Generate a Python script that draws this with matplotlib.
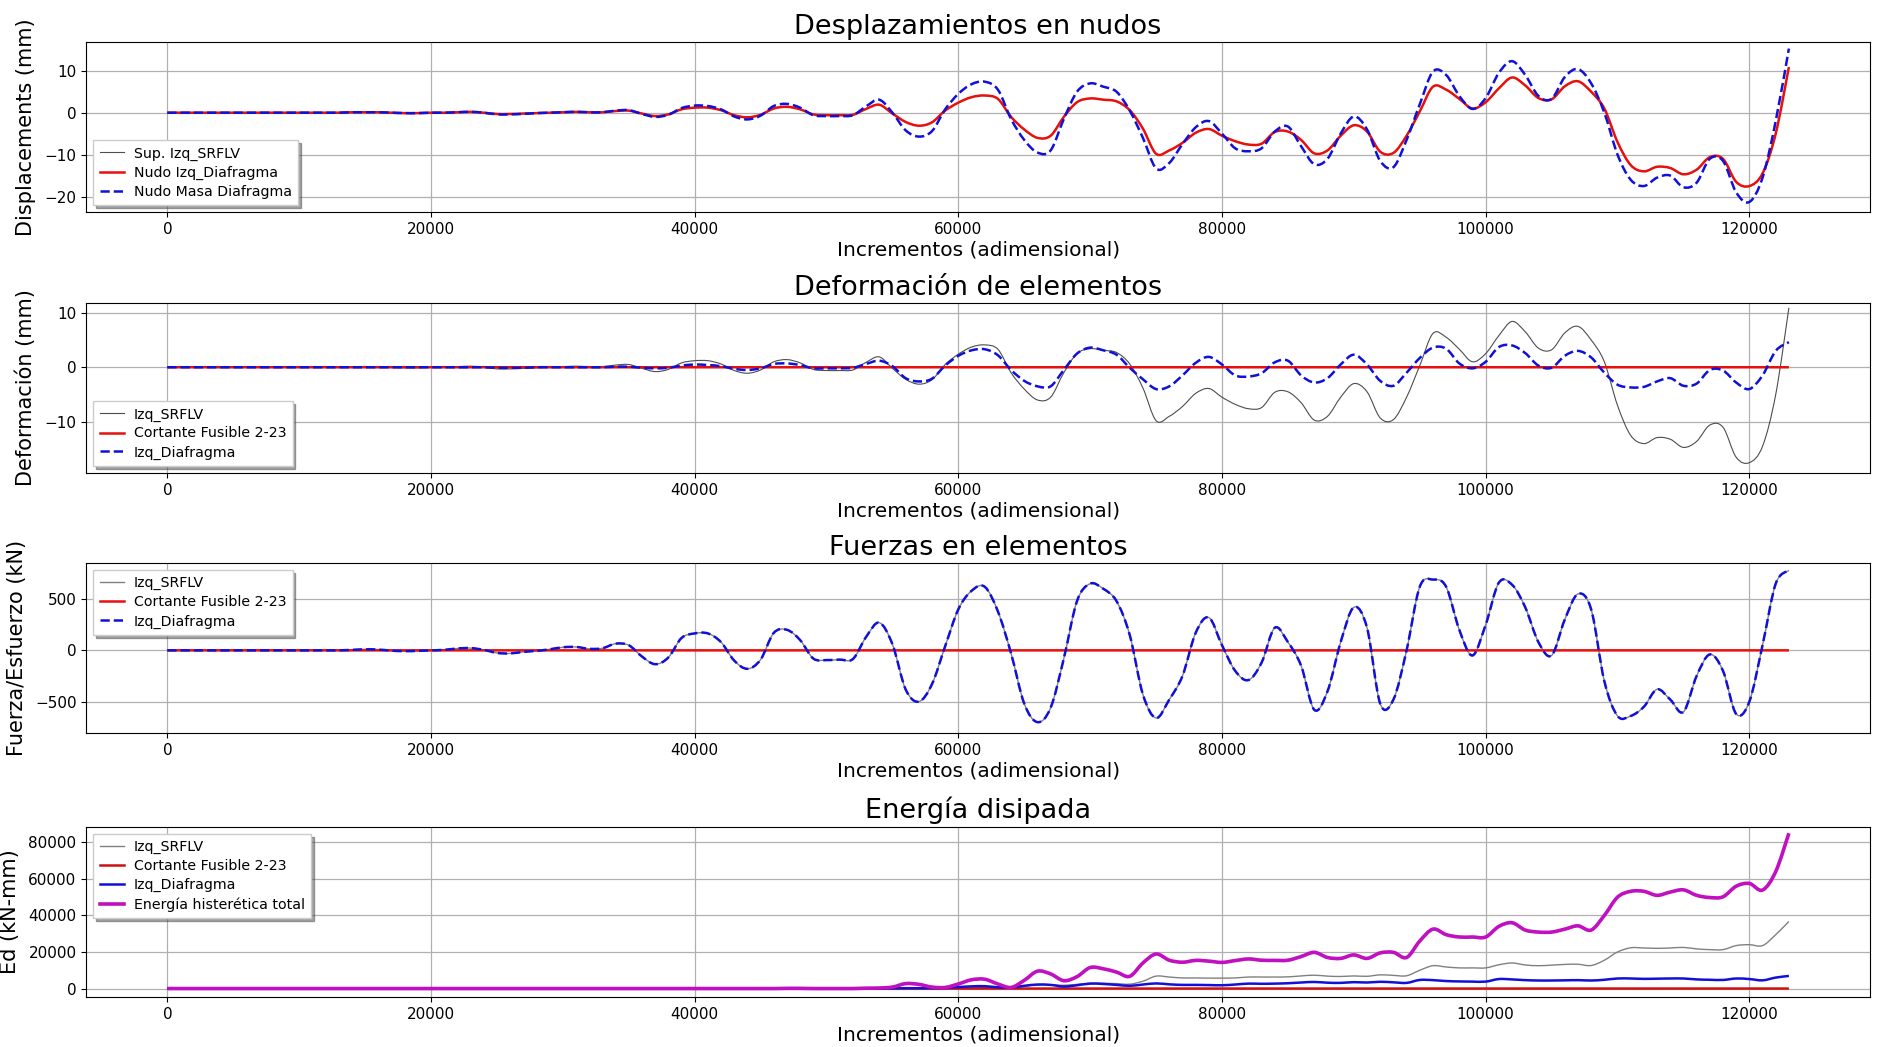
import numpy as np
import matplotlib
matplotlib.use("Agg")
import matplotlib.pyplot as plt
from matplotlib.path import Path
from matplotlib.patches import PathPatch

# Increment axis (one sample every 1000 increments)
incrementos = np.arange(0, 124000, 1000)

# Displacement of the left SRFLV support / node (mm)
desp_srflv = [
    0, 0, 0, 0, 0, 0, 0, 0, 0, 0,
    0, 0, 0, 0, 0.1, 0.1, 0.1, 0, -0.1, -0.1,
    0, 0, 0.1, 0.2, 0, -0.3, -0.3, -0.2, -0.1, 0,
    0.1, 0.2, 0.1, 0.1, 0.4, 0.5, -0.2, -0.8, -0.4, 0.8,
    1.2, 1.2, 0.6, -0.6, -1.1, -0.5, 1.0, 1.4, 0.8, -0.4,
    -0.6, -0.6, -0.5, 0.9, 1.9, -0.2, -2.2, -3.1, -2.3, 0.5,
    2.4, 3.7, 4.1, 3.3, -1.0, -4.0, -6.0, -5.5, -1.0, 2.5,
    3.4, 3.1, 2.7, 0.6, -3.8, -9.8, -9.0, -7.2, -4.8, -3.9,
    -5.5, -6.8, -7.6, -7.4, -4.6, -4.5, -6.5, -9.7, -9.0, -5.5,
    -3.0, -4.5, -9.3, -9.6, -5.5, 0.3, 6.2, 5.5, 3.3, 1.0,
    2.5, 5.8, 8.4, 6.5, 3.5, 3.2, 6.3, 7.5, 5.0, 1.0,
    -7.0, -12.5, -14.0, -12.9, -13.2, -14.7, -13.6, -10.6, -11.0, -16.5,
    -17.5, -14.5, -5.0, 10.9,
]

# Displacement of the diaphragm mass node (mm)
desp_masa = [
    0, 0, 0, 0, 0, 0, 0, 0, 0, 0,
    0, 0, 0, 0, 0.1, 0.1, 0.1, 0, -0.1, -0.1,
    0, 0, 0.1, 0.2, 0, -0.4, -0.4, -0.3, -0.1, 0,
    0.1, 0.2, 0.1, 0.1, 0.5, 0.6, -0.3, -1.0, -0.5, 1.1,
    1.7, 1.6, 0.8, -0.9, -1.6, -0.7, 1.6, 2.1, 1.2, -0.6,
    -0.8, -0.8, -0.6, 1.5, 3.1, 0.0, -4.2, -5.7, -4.4, 0.8,
    4.5, 6.8, 7.4, 5.5, -1.5, -6.5, -9.5, -9.0, -1.5, 5.0,
    7.0, 6.2, 5.0, 0.5, -6.0, -13.3, -12.0, -7.5, -3.5, -2.0,
    -5.0, -8.5, -9.2, -8.5, -4.5, -3.3, -8.0, -12.3, -11.0, -5.0,
    -0.9, -4.0, -11.5, -13.0, -6.5, 2.0, 9.8, 9.0, 4.0, 0.9,
    3.5, 9.5, 12.3, 9.0, 4.0, 3.3, 8.5, 10.4, 7.0, 0.0,
    -10.0, -16.0, -17.5, -15.5, -15.0, -17.8, -16.7, -11.0, -11.5, -19.0,
    -21.3, -15.5, -2.0, 15.3,
]

# Deformation of the diaphragm element (mm)
def_diafragma = [
    0, 0, 0, 0, 0, 0, 0, 0, 0, 0,
    0, 0, 0, 0, 0, 0, 0, 0, 0, 0,
    0, 0, 0, 0, 0, -0.1, -0.1, -0.1, 0, 0,
    0, 0, 0, 0, 0.1, 0.1, -0.1, -0.2, -0.1, 0.3,
    0.5, 0.4, 0.2, -0.3, -0.5, -0.2, 0.6, 0.7, 0.4, -0.2,
    -0.2, -0.2, -0.1, 0.6, 1.2, 0.2, -2.0, -2.6, -2.1, 0.3,
    2.1, 3.1, 3.3, 2.2, -0.5, -2.5, -3.5, -3.5, -0.5, 2.5,
    3.6, 3.1, 2.3, -0.1, -2.2, -4.0, -3.5, -1.5, 0.8, 1.9,
    0.5, -1.5, -1.7, -1.1, 0.9, 1.2, -1.5, -2.8, -2.0, 0.5,
    2.3, 0.5, -2.5, -3.4, -1.0, 1.7, 3.6, 3.4, 0.7, -0.2,
    1.0, 3.7, 4.0, 2.6, 0.3, -0.1, 2.1, 3.0, 1.8, -1.0,
    -3.2, -3.7, -3.6, -2.6, -2.0, -3.4, -3.0, -0.5, -0.6, -2.8,
    -4.0, -1.5, 3.0, 4.6,
]

# Force in the SRFLV / diaphragm elements (kN)
fuerza = [
    0, 0, 0, 0, 0, 0, 0, 0, 0, 0,
    0, 0, 0, 0, 5, 10, 8, -3, -8, -5,
    0, 5, 18, 22, 5, -25, -30, -15, -5, 10,
    30, 33, 15, 20, 65, 50, -60, -135, -70, 120,
    165, 165, 80, -100, -180, -90, 170, 200, 100, -80,
    -95, -90, -85, 130, 270, 60, -380, -500, -330, 40,
    400, 580, 620, 380, -30, -520, -700, -560, -80, 480,
    650, 600, 480, 150, -430, -660, -480, -250, 170, 320,
    50, -200, -290, -120, 220, 80, -150, -580, -400, 80,
    420, 220, -520, -480, 0, 620, 690, 620, 200, -50,
    250, 660, 640, 420, 80, -50, 300, 550, 400, -300,
    -640, -640, -550, -380, -480, -600, -250, -40, -200, -620,
    -500, 50, 650, 780,
]

# Dissipated energy (kN-mm)
energia_srflv = [
    0, 0, 0, 0, 0, 0, 0, 0, 0, 0,
    0, 0, 0, 0, 0, 0, 0, 0, 0, 0,
    0, 0, 0, 0, 0, 0, 0, 0, 0, 0,
    0, 0, 0, 0, 0, 0, 0, 0, 0, 0,
    0, 0, 0, 0, 0, 0, 0, 0, 0, 0,
    0, 0, 0, 0, 0, 0, 100, 100, 100, 100,
    200, 300, 500, 300, 300, 1200, 2000, 2000, 1800, 2300,
    2900, 2900, 2700, 2400, 4000, 6800, 6300, 5800, 5800, 5700,
    5700, 5800, 6300, 6300, 6300, 6400, 6900, 7300, 6800, 6600,
    6900, 6700, 7500, 7200, 7000, 10000, 12500, 11800, 11300, 11300,
    11300, 13000, 14000, 12900, 12500, 12800, 13200, 13300, 12600, 15500,
    20000, 22300, 22200, 22000, 22200, 22500, 21700, 21300, 21300, 23500,
    24000, 23500, 29500, 36700,
]

energia_diafragma = [
    0, 0, 0, 0, 0, 0, 0, 0, 0, 0,
    0, 0, 0, 0, 0, 0, 0, 0, 0, 0,
    0, 0, 0, 0, 0, 0, 0, 0, 0, 0,
    0, 0, 0, 0, 0, 0, 0, 0, 0, 0,
    0, 0, 0, 0, 0, 0, 0, 0, 0, 0,
    0, 0, 0, 0, 0, 100, 200, 200, 200, 300,
    800, 1200, 1300, 700, 600, 1500, 2200, 2000, 1100, 1800,
    2700, 2500, 2000, 1500, 2200, 2800, 2300, 2000, 2000, 1900,
    1800, 2200, 2700, 2600, 2700, 2900, 3300, 3600, 3200, 3100,
    3500, 3300, 3700, 3400, 3100, 4700, 4600, 4100, 3900, 3800,
    3800, 5200, 5000, 4600, 4400, 4400, 4500, 4600, 4400, 4800,
    5500, 5500, 5300, 5400, 5500, 5500, 5000, 4800, 4700, 5500,
    5200, 4500, 6000, 6900,
]

energia_total = [
    0, 0, 0, 0, 0, 0, 0, 0, 0, 0,
    0, 0, 0, 0, 0, 0, 0, 0, 0, 0,
    0, 0, 0, 0, 0, 0, 0, 0, 0, 0,
    0, 0, 0, 0, 0, 0, 0, 0, 0, 0,
    0, 0, 0, 0, 0, 0, 0, 100, 100, 0,
    0, 0, 0, 200, 300, 800, 2700, 2300, 800, 600,
    2500, 4800, 5100, 2500, 600, 4500, 9500, 8000, 4300, 6500,
    11500, 10800, 9000, 6700, 14000, 18900, 15500, 14400, 15400, 15000,
    14300, 15300, 16200, 15500, 15400, 15500, 17500, 19800, 17000, 16500,
    18400, 16500, 19500, 19800, 17000, 26000, 32500, 29500, 28200, 28200,
    28200, 34000, 36000, 32000, 30900, 30900, 32500, 34300, 32000, 40000,
    50000, 53200, 53200, 51000, 52800, 54000, 51000, 49800, 50200, 56000,
    57500, 53900, 64000, 85000,
]

# The shear fuse 2-23 stays at zero in every response quantity
cortante_fusible = [0.0] * len(incrementos)

plt.rcParams["font.family"] = ["DejaVu Sans"]

fig = plt.figure(figsize=(18.79, 10.47), dpi=100)

left, width, height = 0.0459, 0.9493, 0.1625
bottoms = [0.7975, 0.5482, 0.2999, 0.0478]
axes = [fig.add_axes([left, b, width, height]) for b in bottoms]

TITLE_FS = 19.5
LABEL_FS = 15
TICK_FS = 11
LEG_FS = 10.2


def curve(ax, x, y, label, **kw):
    """Draw a series as a smooth Catmull-Rom curve through its samples."""
    x = np.asarray(x, float)
    y = np.asarray(y, float)
    px = np.concatenate([[x[0]], x, [x[-1]]])
    py = np.concatenate([[y[0]], y, [y[-1]]])
    verts = [(x[0], y[0])]
    codes = [Path.MOVETO]
    for i in range(1, len(px) - 2):
        c1 = (px[i] + (px[i + 1] - px[i - 1]) / 6, py[i] + (py[i + 1] - py[i - 1]) / 6)
        c2 = (px[i + 1] - (px[i + 2] - px[i]) / 6, py[i + 1] - (py[i + 2] - py[i]) / 6)
        verts += [c1, c2, (px[i + 1], py[i + 1])]
        codes += [Path.CURVE4] * 3
    patch = PathPatch(Path(verts, codes), fill=False, transform=ax.transData,
                      color=kw.get("color"), linewidth=kw.get("lw", 1.5),
                      linestyle=kw.get("ls", "-"), capstyle="butt", joinstyle="round")
    ax.add_patch(patch)
    # legend entry
    ax.plot([], [], color=kw.get("color"), lw=kw.get("lw", 1.5),
            ls=kw.get("ls", "-"), label=label)


def style(ax, title, ylabel, yticks, ylim, legend_loc):
    ax.set_title(title, fontsize=TITLE_FS, pad=6)
    ax.set_ylabel(ylabel, fontsize=LABEL_FS, labelpad=6)
    ax.set_xlabel("Incrementos (adimensional)", fontsize=LABEL_FS - 0.5, labelpad=3)
    ax.set_xlim(-6150, 129150)
    ax.set_xticks(np.arange(0, 120001, 20000))
    ax.set_yticks(yticks)
    ax.set_ylim(*ylim)
    ax.tick_params(labelsize=TICK_FS)
    ax.grid(True, color="#b0b0b0", linewidth=0.9)
    ax.set_axisbelow(True)
    ax.legend(loc=legend_loc, fontsize=LEG_FS, shadow=True, fancybox=False,
              framealpha=1.0, edgecolor="#cccccc", handlelength=1.7,
              labelspacing=0.35, borderpad=0.45, handletextpad=0.7)


# Panel 1: node displacements
ax = axes[0]
curve(ax, incrementos, desp_srflv, "Sup. Izq_SRFLV", color="0.3", lw=0.8)
curve(ax, incrementos, desp_srflv, "Nudo Izq_Diafragma", color="#e8100c", lw=1.8)
curve(ax, incrementos, desp_masa, "Nudo Masa Diafragma", color="#1010d8", lw=1.8, ls="--")
style(ax, "Desplazamientos en nudos", "Displacements (mm)", [-20, -10, 0, 10],
      (-23.7, 16.9), "lower left")

# Panel 2: element deformation
ax = axes[1]
curve(ax, incrementos, desp_srflv, "Izq_SRFLV", color="0.3", lw=0.8)
curve(ax, incrementos, cortante_fusible, "Cortante Fusible 2-23", color="#e8100c", lw=1.8)
curve(ax, incrementos, def_diafragma, "Izq_Diafragma", color="#1010d8", lw=1.8, ls="--")
style(ax, "Deformación de elementos", "Deformación (mm)", [-10, 0, 10],
      (-19.4, 11.8), "lower left")

# Panel 3: element forces
ax = axes[2]
curve(ax, incrementos, fuerza, "Izq_SRFLV", color="gray", lw=1.0)
curve(ax, incrementos, cortante_fusible, "Cortante Fusible 2-23", color="#e8100c", lw=1.8)
curve(ax, incrementos, fuerza, "Izq_Diafragma", color="#1010d8", lw=1.8, ls="--")
style(ax, "Fuerzas en elementos", "Fuerza/Esfuerzo (kN)", [-500, 0, 500],
      (-806, 853), "upper left")

# Panel 4: dissipated energy
ax = axes[3]
curve(ax, incrementos, energia_srflv, "Izq_SRFLV", color="gray", lw=1.0)
curve(ax, incrementos, cortante_fusible, "Cortante Fusible 2-23", color="#d01010", lw=1.8)
curve(ax, incrementos, energia_diafragma, "Izq_Diafragma", color="#1010d8", lw=1.8)
curve(ax, incrementos, energia_total, "Energía histerética total", color="#c010c0", lw=2.6)
style(ax, "Energía disipada", "Ed (kN-mm)", np.arange(0, 80001, 20000),
      (-4600, 88500), "upper left")

fig.savefig("out.png", dpi=100)
